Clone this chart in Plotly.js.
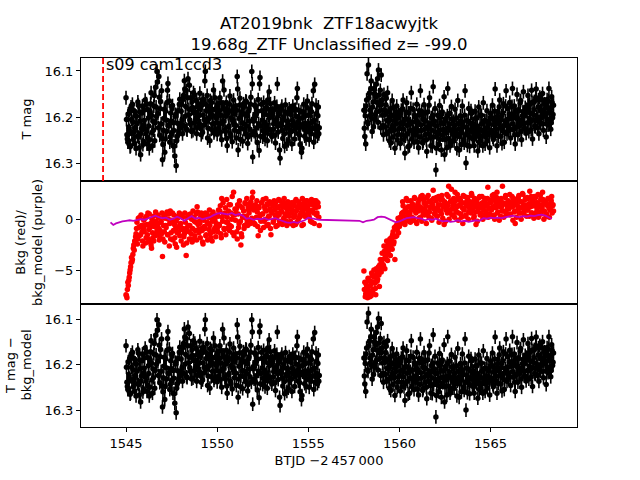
<!DOCTYPE html>
<html>
<head>
<meta charset="utf-8">
<script src="https://cdn.plot.ly/plotly-3.0.1.min.js"></script>
<style>
  body { margin: 0; background: white; }
  #chart { width: 640px; height: 480px; }
</style>
</head>
<body>
<div id="chart"></div>
<script>
// TESS sector 9 light curve, orbit 1 and orbit 2 (BTJD)
// cadences are split in two interleaved sets (a: x.x0/x.x5, b: half step later)
const t1 = [
  1545.00,1545.05,1545.10,1545.15,1545.20,1545.25,1545.30,1545.35,1545.40,1545.45,1545.50,1545.55,1545.60,1545.65,1545.70,1545.75,1545.80,1545.85,1545.90,1545.95,
  1546.00,1546.05,1546.10,1546.15,1546.20,1546.25,1546.30,1546.35,1546.40,1546.45,1546.50,1546.55,1546.60,1546.65,1546.70,1546.75,1546.80,1546.85,1546.90,1546.95,
  1547.00,1547.05,1547.10,1547.15,1547.20,1547.25,1547.30,1547.35,1547.40,1547.45,1547.50,1547.55,1547.60,1547.65,1547.70,1547.75,1547.80,1547.85,1547.90,1547.95,
  1548.00,1548.05,1548.10,1548.15,1548.20,1548.25,1548.30,1548.35,1548.40,1548.45,1548.50,1548.55,1548.60,1548.65,1548.70,1548.75,1548.80,1548.85,1548.90,1548.95,
  1549.00,1549.05,1549.10,1549.15,1549.20,1549.25,1549.30,1549.35,1549.40,1549.45,1549.50,1549.55,1549.60,1549.65,1549.70,1549.75,1549.80,1549.85,1549.90,1549.95,
  1550.00,1550.05,1550.10,1550.15,1550.20,1550.25,1550.30,1550.35,1550.40,1550.45,1550.50,1550.55,1550.60,1550.65,1550.70,1550.75,1550.80,1550.85,1550.90,1550.95,
  1551.00,1551.05,1551.10,1551.15,1551.20,1551.25,1551.30,1551.35,1551.40,1551.45,1551.50,1551.55,1551.60,1551.65,1551.70,1551.75,1551.80,1551.85,1551.90,1551.95,
  1552.00,1552.05,1552.10,1552.15,1552.20,1552.25,1552.30,1552.35,1552.40,1552.45,1552.50,1552.55,1552.60,1552.65,1552.70,1552.75,1552.80,1552.85,1552.90,1552.95,
  1553.00,1553.05,1553.10,1553.15,1553.20,1553.25,1553.30,1553.35,1553.40,1553.45,1553.50,1553.55,1553.60,1553.65,1553.70,1553.75,1553.80,1553.85,1553.90,1553.95,
  1554.00,1554.05,1554.10,1554.15,1554.20,1554.25,1554.30,1554.35,1554.40,1554.45,1554.50,1554.55,1554.60,1554.65,1554.70,1554.75,1554.80,1554.85,1554.90,1554.95,
  1555.00,1555.05,1555.10,1555.15,1555.20,1555.25,1555.30,1555.35,1555.40,1555.45,1555.50,1555.55,1555.60
];
const t1b = [
  1545.025,1545.075,1545.125,1545.175,1545.225,1545.275,1545.325,1545.375,1545.425,1545.475,1545.525,1545.575,1545.625,1545.675,1545.725,1545.775,1545.825,1545.875,1545.925,1545.975,
  1546.025,1546.075,1546.125,1546.175,1546.225,1546.275,1546.325,1546.375,1546.425,1546.475,1546.525,1546.575,1546.625,1546.675,1546.725,1546.775,1546.825,1546.875,1546.925,1546.975,
  1547.025,1547.075,1547.125,1547.175,1547.225,1547.275,1547.325,1547.375,1547.425,1547.475,1547.525,1547.575,1547.625,1547.675,1547.725,1547.775,1547.825,1547.875,1547.925,1547.975,
  1548.025,1548.075,1548.125,1548.175,1548.225,1548.275,1548.325,1548.375,1548.425,1548.475,1548.525,1548.575,1548.625,1548.675,1548.725,1548.775,1548.825,1548.875,1548.925,1548.975,
  1549.025,1549.075,1549.125,1549.175,1549.225,1549.275,1549.325,1549.375,1549.425,1549.475,1549.525,1549.575,1549.625,1549.675,1549.725,1549.775,1549.825,1549.875,1549.925,1549.975,
  1550.025,1550.075,1550.125,1550.175,1550.225,1550.275,1550.325,1550.375,1550.425,1550.475,1550.525,1550.575,1550.625,1550.675,1550.725,1550.775,1550.825,1550.875,1550.925,1550.975,
  1551.025,1551.075,1551.125,1551.175,1551.225,1551.275,1551.325,1551.375,1551.425,1551.475,1551.525,1551.575,1551.625,1551.675,1551.725,1551.775,1551.825,1551.875,1551.925,1551.975,
  1552.025,1552.075,1552.125,1552.175,1552.225,1552.275,1552.325,1552.375,1552.425,1552.475,1552.525,1552.575,1552.625,1552.675,1552.725,1552.775,1552.825,1552.875,1552.925,1552.975,
  1553.025,1553.075,1553.125,1553.175,1553.225,1553.275,1553.325,1553.375,1553.425,1553.475,1553.525,1553.575,1553.625,1553.675,1553.725,1553.775,1553.825,1553.875,1553.925,1553.975,
  1554.025,1554.075,1554.125,1554.175,1554.225,1554.275,1554.325,1554.375,1554.425,1554.475,1554.525,1554.575,1554.625,1554.675,1554.725,1554.775,1554.825,1554.875,1554.925,1554.975,
  1555.025,1555.075,1555.125,1555.175,1555.225,1555.275,1555.325,1555.375,1555.425,1555.475,1555.525,1555.575
];
const t2 = [
  1558.05,1558.10,1558.15,1558.20,1558.25,1558.30,1558.35,1558.40,1558.45,1558.50,1558.55,1558.60,1558.65,1558.70,1558.75,1558.80,1558.85,1558.90,1558.95,
  1559.00,1559.05,1559.10,1559.15,1559.20,1559.25,1559.30,1559.35,1559.40,1559.45,1559.50,1559.55,1559.60,1559.65,1559.70,1559.75,1559.80,1559.85,1559.90,1559.95,
  1560.00,1560.05,1560.10,1560.15,1560.20,1560.25,1560.30,1560.35,1560.40,1560.45,1560.50,1560.55,1560.60,1560.65,1560.70,1560.75,1560.80,1560.85,1560.90,1560.95,
  1561.00,1561.05,1561.10,1561.15,1561.20,1561.25,1561.30,1561.35,1561.40,1561.45,1561.50,1561.55,1561.60,1561.65,1561.70,1561.75,1561.80,1561.85,1561.90,1561.95,
  1562.00,1562.05,1562.10,1562.15,1562.20,1562.25,1562.30,1562.35,1562.40,1562.45,1562.50,1562.55,1562.60,1562.65,1562.70,1562.75,1562.80,1562.85,1562.90,1562.95,
  1563.00,1563.05,1563.10,1563.15,1563.20,1563.25,1563.30,1563.35,1563.40,1563.45,1563.50,1563.55,1563.60,1563.65,1563.70,1563.75,1563.80,1563.85,1563.90,1563.95,
  1564.00,1564.05,1564.10,1564.15,1564.20,1564.25,1564.30,1564.35,1564.40,1564.45,1564.50,1564.55,1564.60,1564.65,1564.70,1564.75,1564.80,1564.85,1564.90,1564.95,
  1565.00,1565.05,1565.10,1565.15,1565.20,1565.25,1565.30,1565.35,1565.40,1565.45,1565.50,1565.55,1565.60,1565.65,1565.70,1565.75,1565.80,1565.85,1565.90,1565.95,
  1566.00,1566.05,1566.10,1566.15,1566.20,1566.25,1566.30,1566.35,1566.40,1566.45,1566.50,1566.55,1566.60,1566.65,1566.70,1566.75,1566.80,1566.85,1566.90,1566.95,
  1567.00,1567.05,1567.10,1567.15,1567.20,1567.25,1567.30,1567.35,1567.40,1567.45,1567.50,1567.55,1567.60,1567.65,1567.70,1567.75,1567.80,1567.85,1567.90,1567.95,
  1568.00,1568.05,1568.10,1568.15,1568.20,1568.25,1568.30,1568.35,1568.40,1568.45
];
const t2b = [
  1558.075,1558.125,1558.175,1558.225,1558.275,1558.325,1558.375,1558.425,1558.475,1558.525,1558.575,1558.625,1558.675,1558.725,1558.775,1558.825,1558.875,1558.925,1558.975,
  1559.025,1559.075,1559.125,1559.175,1559.225,1559.275,1559.325,1559.375,1559.425,1559.475,1559.525,1559.575,1559.625,1559.675,1559.725,1559.775,1559.825,1559.875,1559.925,1559.975,
  1560.025,1560.075,1560.125,1560.175,1560.225,1560.275,1560.325,1560.375,1560.425,1560.475,1560.525,1560.575,1560.625,1560.675,1560.725,1560.775,1560.825,1560.875,1560.925,1560.975,
  1561.025,1561.075,1561.125,1561.175,1561.225,1561.275,1561.325,1561.375,1561.425,1561.475,1561.525,1561.575,1561.625,1561.675,1561.725,1561.775,1561.825,1561.875,1561.925,1561.975,
  1562.025,1562.075,1562.125,1562.175,1562.225,1562.275,1562.325,1562.375,1562.425,1562.475,1562.525,1562.575,1562.625,1562.675,1562.725,1562.775,1562.825,1562.875,1562.925,1562.975,
  1563.025,1563.075,1563.125,1563.175,1563.225,1563.275,1563.325,1563.375,1563.425,1563.475,1563.525,1563.575,1563.625,1563.675,1563.725,1563.775,1563.825,1563.875,1563.925,1563.975,
  1564.025,1564.075,1564.125,1564.175,1564.225,1564.275,1564.325,1564.375,1564.425,1564.475,1564.525,1564.575,1564.625,1564.675,1564.725,1564.775,1564.825,1564.875,1564.925,1564.975,
  1565.025,1565.075,1565.125,1565.175,1565.225,1565.275,1565.325,1565.375,1565.425,1565.475,1565.525,1565.575,1565.625,1565.675,1565.725,1565.775,1565.825,1565.875,1565.925,1565.975,
  1566.025,1566.075,1566.125,1566.175,1566.225,1566.275,1566.325,1566.375,1566.425,1566.475,1566.525,1566.575,1566.625,1566.675,1566.725,1566.775,1566.825,1566.875,1566.925,1566.975,
  1567.025,1567.075,1567.125,1567.175,1567.225,1567.275,1567.325,1567.375,1567.425,1567.475,1567.525,1567.575,1567.625,1567.675,1567.725,1567.775,1567.825,1567.875,1567.925,1567.975,
  1568.025,1568.075,1568.125,1568.175,1568.225,1568.275,1568.325,1568.375,1568.425
];

// T mag (the bkg-subtracted panel looks the same at this scale)
const mag1 = [
  16.158,16.238,16.254,16.221,16.186,16.262,16.205,16.172,16.248,16.231,16.196,16.268,16.214,16.167,16.243,16.189,16.281,16.225,16.176,16.252,
  16.207,16.163,16.236,16.258,16.184,16.219,16.249,16.171,16.196,16.262,16.228,16.153,16.212,16.178,16.101,16.192,16.112,16.239,16.166,16.143,
  16.292,16.228,16.183,16.247,16.206,16.168,16.127,16.219,16.254,16.191,16.236,16.175,16.212,16.263,16.198,16.305,16.242,16.186,16.229,16.161,
  16.214,16.172,16.236,16.153,16.121,16.198,16.142,16.228,16.117,16.183,16.206,16.158,16.231,16.179,16.147,16.212,16.189,16.164,16.223,16.171,
  16.196,16.148,16.219,16.175,16.233,16.162,16.205,16.101,16.186,16.153,16.224,16.177,16.251,16.193,16.168,16.214,16.141,16.229,16.184,16.202,
  16.237,16.171,16.214,16.158,16.196,16.249,16.122,16.208,16.183,16.231,16.168,16.262,16.192,16.219,16.154,16.241,16.186,16.207,16.163,16.228,
  16.176,16.245,16.112,16.271,16.203,16.159,16.224,16.188,16.252,16.171,16.214,16.236,16.167,16.198,16.243,16.182,16.226,16.157,16.101,16.286,
  16.209,16.174,16.238,16.193,16.255,16.162,16.272,16.114,16.219,16.186,16.243,16.168,16.211,16.234,16.179,16.251,16.196,16.145,16.227,16.183,
  16.242,16.191,16.215,16.169,16.256,16.204,16.128,16.232,16.187,16.289,16.218,16.176,16.246,16.199,16.263,16.173,16.224,16.208,16.251,16.182,
  16.229,16.194,16.258,16.176,16.214,16.247,16.183,16.221,16.138,16.236,16.203,16.259,16.188,16.267,16.216,16.172,16.241,16.197,16.232,16.165,
  16.218,16.249,16.183,16.236,16.171,16.209,16.254,16.129,16.226,16.192,16.241,16.178,16.223
];
const mag1b = [
  16.205,16.247,16.193,16.229,16.264,16.178,16.236,16.211,16.186,16.257,16.223,16.198,16.241,16.174,16.266,16.208,16.235,16.191,16.259,16.217,
  16.184,16.226,16.171,16.244,16.202,16.268,16.189,16.147,16.233,16.209,16.176,16.251,16.135,16.198,16.124,16.223,16.157,16.182,16.214,16.246,
  16.259,16.203,16.276,16.187,16.231,16.142,16.217,16.165,16.243,16.208,16.181,16.262,16.229,16.284,16.194,16.251,16.213,16.237,16.172,16.223,
  16.187,16.206,16.162,16.218,16.139,16.177,16.226,16.158,16.195,16.131,16.214,16.183,16.166,16.229,16.191,16.152,16.205,16.236,16.178,16.197,
  16.215,16.181,16.238,16.163,16.196,16.217,16.122,16.172,16.209,16.245,16.187,16.201,16.164,16.226,16.183,16.197,16.234,16.158,16.212,16.178,
  16.196,16.224,16.186,16.232,16.169,16.213,16.178,16.141,16.227,16.198,16.246,16.185,16.221,16.172,16.236,16.201,16.253,16.179,16.214,16.193,
  16.218,16.185,16.139,16.231,16.174,16.248,16.196,16.212,16.179,16.226,16.193,16.165,16.219,16.257,16.187,16.209,16.172,16.238,16.128,16.204,
  16.231,16.196,16.178,16.223,16.187,16.214,16.128,16.241,16.172,16.206,16.229,16.194,16.248,16.183,16.217,16.163,16.226,16.201,16.171,16.238,
  16.197,16.226,16.184,16.239,16.211,16.177,16.219,16.195,16.271,16.214,16.183,16.229,16.206,16.237,16.189,16.221,16.258,16.192,16.216,16.234,
  16.186,16.231,16.207,16.219,16.184,16.226,16.198,16.158,16.212,16.185,16.239,16.221,16.276,16.202,16.188,16.226,16.213,16.247,16.179,16.219,
  16.196,16.231,16.213,16.188,16.224,16.143,16.207,16.238,16.174,16.219,16.197,16.236
];
const mag2 = [
  16.185,16.242,16.258,16.163,16.211,16.087,16.148,16.196,16.122,16.231,16.167,16.138,16.205,16.156,16.189,16.117,16.098,16.174,16.142,
  16.109,16.163,16.218,16.151,16.194,16.173,16.236,16.147,16.209,16.251,16.182,16.226,16.164,16.243,16.198,16.267,16.215,16.176,16.238,16.191,
  16.224,16.257,16.185,16.212,16.163,16.248,16.278,16.203,16.169,16.236,16.191,16.262,16.214,16.147,16.229,16.183,16.254,16.199,16.238,16.172,
  16.211,16.266,16.186,16.143,16.229,16.197,16.252,16.173,16.238,16.208,16.274,16.189,16.222,16.158,16.245,16.201,16.263,16.134,16.216,16.181,
  16.314,16.243,16.196,16.259,16.175,16.228,16.271,16.189,16.214,16.156,16.248,16.203,16.266,16.138,16.224,16.192,16.255,16.177,16.236,16.209,
  16.251,16.183,16.229,16.268,16.164,16.214,16.242,16.197,16.259,16.176,16.221,16.256,16.143,16.299,16.207,16.238,16.181,16.263,16.213,16.192,
  16.246,16.219,16.262,16.187,16.234,16.202,16.273,16.178,16.226,16.251,16.196,16.241,16.169,16.229,16.258,16.208,16.186,16.238,16.214,16.266,
  16.192,16.233,16.174,16.248,16.206,16.139,16.225,16.262,16.188,16.214,16.163,16.241,16.197,16.229,16.171,16.254,16.208,16.143,16.236,16.182,
  16.219,16.168,16.245,16.193,16.138,16.227,16.176,16.258,16.202,16.151,16.238,16.186,16.213,16.164,16.249,16.197,16.145,16.224,16.179,16.235,
  16.188,16.153,16.231,16.172,16.209,16.142,16.247,16.194,16.166,16.221,16.139,16.203,16.178,16.236,16.157,16.214,16.185,16.149,16.228,16.171,
  16.198,16.243,16.162,16.217,16.138,16.189,16.226,16.156,16.201,16.174
];
const mag2b = [
  16.224,16.197,16.176,16.106,16.214,16.158,16.185,16.139,16.202,16.178,16.221,16.149,16.194,16.129,16.168,16.211,16.152,16.186,16.223,
  16.172,16.196,16.238,16.184,16.221,16.159,16.207,16.188,16.231,16.203,16.256,16.196,16.219,16.179,16.228,16.207,16.188,16.249,16.201,16.225,
  16.196,16.214,16.238,16.182,16.226,16.205,16.241,16.189,16.218,16.264,16.207,16.229,16.181,16.247,16.211,16.231,16.196,16.225,16.208,16.253,
  16.229,16.194,16.243,16.217,16.188,16.256,16.205,16.226,16.191,16.249,16.221,16.236,16.174,16.214,16.262,16.228,16.196,16.243,16.209,16.232,
  16.267,16.219,16.236,16.201,16.248,16.212,16.193,16.239,16.226,16.281,16.208,16.233,16.197,16.246,16.215,16.262,16.229,16.204,16.251,16.226,
  16.218,16.241,16.202,16.236,16.214,16.271,16.226,16.208,16.233,16.214,16.249,16.196,16.238,16.222,16.261,16.209,16.243,16.228,16.186,16.231,
  16.213,16.248,16.226,16.203,16.241,16.219,16.237,16.254,16.196,16.228,16.214,16.262,16.231,16.207,16.242,16.224,16.251,16.211,16.234,16.203,
  16.228,16.201,16.243,16.216,16.187,16.234,16.209,16.198,16.241,16.178,16.223,16.206,16.257,16.191,16.218,16.233,16.176,16.214,16.205,16.229,
  16.194,16.226,16.203,16.177,16.215,16.196,16.238,16.187,16.221,16.204,16.184,16.219,16.169,16.231,16.206,16.188,16.214,16.197,16.226,16.183,
  16.212,16.174,16.203,16.191,16.227,16.168,16.206,16.184,16.219,16.158,16.198,16.223,16.162,16.209,16.186,16.201,16.163,16.214,16.193,16.181,
  16.173,16.214,16.191,16.165,16.205,16.182,16.212,16.169,16.194
];
const magErr = 0.015;

// background flux (red points)
const bkg1 = [
  -7.3,-7.6,-6.1,-5.9,-5.2,-4.6,-3.7,-3.9,-2.8,-3.0,-2.2,-1.4,-0.3,-1.9,-0.8,0.2,-1.5,-0.6,-2.1,-0.9,
  -1.2,0.1,-1.8,-0.5,0.6,-1.0,-2.2,-0.4,-2.8,-1.3,0.3,-0.7,-1.6,-0.2,-1.1,0.4,-0.9,-1.7,-0.3,-1.4,
  -3.6,-0.6,-1.2,0.1,-0.8,0.7,-1.5,0.5,-0.4,-1.9,-0.1,0.6,-1.1,-0.5,-2.4,-0.2,-1.3,0.3,-0.7,-1.6,
  -0.4,-1.0,0.2,-2.5,-1.4,-0.3,-3.5,-0.8,0.4,-1.2,-0.6,-1.9,0.0,-0.9,-2.0,-0.2,-1.1,0.5,1.2,-0.5,
  -1.3,-0.4,0.3,-0.9,-2.2,-0.1,-0.7,0.6,-1.5,-0.3,0.2,-1.0,-0.6,-1.8,0.4,-0.2,-1.2,0.1,-0.8,-0.4,
  -0.9,0.3,-0.5,0.8,-1.4,2.0,-0.2,0.5,-1.0,1.1,-0.3,0.2,-0.8,1.4,-0.6,0.6,0.0,-1.3,2.6,0.4,
  -0.1,1.0,-1.9,0.5,-0.4,1.3,-2.5,-1.7,0.2,0.8,-0.6,1.5,0.3,-0.3,1.1,0.6,-0.2,1.7,0.1,2.6,
  0.9,-0.4,1.4,0.2,0.7,-1.6,1.1,0.4,-0.2,1.6,0.5,-0.8,1.2,0.0,0.8,1.5,-0.5,0.3,1.0,-1.5,
  0.6,1.3,-0.1,0.9,1.6,0.2,-0.6,1.1,0.4,1.8,-0.3,0.7,1.2,0.1,1.5,0.5,-0.2,0.9,1.3,0.3,
  1.0,-0.4,0.6,1.4,0.2,1.7,-0.5,0.8,1.2,0.0,1.5,0.4,1.1,-0.6,0.7,1.6,0.3,1.0,1.8,0.5,
  1.3,0.2,1.7,0.8,-0.3,1.4,0.6,1.8,1.1,0.4,1.6,1.2,-0.6
];
const bkg1b = [
  -7.4,-6.8,-6.4,-5.6,-4.9,-4.2,-4.1,-3.4,-2.5,-2.1,-1.7,-0.9,-2.4,0.1,-1.6,-0.7,0.4,-1.2,-2.6,-0.1,
  -0.6,-2.3,0.3,-1.5,-1.9,0.5,-0.8,-2.5,0.0,-1.8,-2.1,-0.3,0.7,-1.4,-0.6,0.2,-2.0,-1.1,-0.2,0.6,
  -1.9,0.3,-2.2,-0.6,0.5,-1.5,0.0,-2.6,0.8,-1.3,-0.2,-2.0,0.4,-1.8,-0.9,-2.7,0.1,-1.2,0.6,-0.5,
  -2.1,0.4,-0.9,-1.7,0.6,-1.1,-2.3,0.2,-0.6,-1.9,0.5,-1.4,-2.2,0.8,0.2,-1.6,-0.3,-2.0,0.7,-1.0,
  -0.2,-1.8,0.6,-1.1,-2.4,0.3,-0.9,-1.6,0.5,-2.0,-0.4,0.9,-1.4,0.1,-2.1,0.7,-1.0,-0.1,-1.7,0.4,
  -1.2,0.9,-0.6,1.3,-1.8,0.2,1.6,-0.9,0.6,-1.5,1.9,-0.3,0.8,-1.1,1.4,-0.7,2.2,0.4,-1.6,1.0,
  0.6,-1.2,1.4,-0.8,1.8,-0.2,-1.4,1.1,0.3,-0.9,1.6,0.1,2.0,-0.6,0.9,1.5,-0.4,1.2,2.1,-0.3,
  1.3,-0.5,0.9,1.8,-0.7,1.2,0.1,-1.1,1.6,0.5,1.9,-0.2,1.0,2.0,-0.6,1.4,0.3,1.7,-0.9,0.8,
  1.5,-0.3,1.8,0.4,-0.7,1.2,0.6,1.9,-0.2,1.3,0.8,-0.5,1.6,2.0,0.3,1.1,-0.6,1.7,0.5,1.4,
  -0.2,1.6,0.9,-0.6,1.3,0.4,1.9,-0.3,1.1,1.7,0.2,1.4,0.7,2.0,-0.5,1.2,1.6,0.3,1.8,0.9,
  0.4,1.7,-0.2,1.9,0.9,1.5,-0.4,1.2,1.8,0.6,1.6,0.2
];
const bkg2 = [
  -5.0,-6.1,-7.2,-6.6,-7.6,-5.9,-7.0,-6.4,-7.4,-5.5,-6.8,-4.9,-6.2,-7.3,-5.3,-5.8,-4.6,-6.5,-3.9,
  -5.1,-3.3,-4.4,-2.6,-4.8,-3.7,-2.1,-4.0,-3.0,-2.4,-3.5,-1.8,-2.9,-1.2,-2.2,-3.9,-0.9,-1.6,-0.4,-1.3,
  -0.7,0.2,-0.2,0.6,1.3,0.3,-0.5,1.0,0.7,1.8,0.4,1.2,-0.3,0.9,1.5,0.1,1.1,2.0,0.6,-0.4,
  1.4,0.8,1.9,0.2,1.1,2.3,0.5,1.6,0.9,1.3,2.1,0.4,1.7,0.7,1.2,0.1,1.5,2.8,1.0,0.6,
  1.8,0.3,1.1,2.2,0.8,1.4,0.5,1.9,1.2,-0.5,1.6,0.9,2.4,1.3,3.2,0.7,1.7,2.9,1.0,0.4,
  1.5,2.6,0.8,1.2,2.0,0.6,1.4,1.8,0.2,1.1,2.3,0.9,1.6,0.4,1.3,2.1,0.7,1.5,1.0,2.5,
  0.9,1.7,0.3,1.2,-0.5,1.9,0.8,1.4,2.2,0.6,1.1,1.6,0.2,1.3,2.0,0.7,1.5,3.1,1.0,0.5,
  1.6,0.9,2.3,1.2,0.4,1.8,1.1,2.6,0.7,1.4,1.9,0.3,1.2,3.2,0.8,1.5,2.1,0.6,1.3,1.7,
  1.0,2.4,0.5,1.6,1.2,2.0,0.7,-0.4,1.4,1.8,0.9,2.3,1.1,0.6,1.7,2.5,1.3,0.8,1.9,1.2,
  2.1,0.9,1.5,2.7,1.2,0.6,1.8,1.3,2.2,0.4,1.6,1.0,2.4,1.4,0.7,1.9,1.1,2.6,1.5,0.8,
  1.7,0.3,1.4,2.0,1.1,0.9,1.6,2.2,1.3,0.8
];
const bkg2b = [
  -6.8,-7.5,-6.3,-7.1,-5.7,-6.9,-7.5,-6.0,-5.2,-7.0,-6.1,-5.6,-6.7,-4.8,-6.0,-5.1,-5.4,-4.4,-4.7,
  -4.2,-3.9,-4.5,-3.1,-3.6,-2.7,-3.2,-2.3,-3.4,-1.9,-2.6,-2.0,-1.5,-2.4,-0.8,-1.7,-0.6,-1.0,0.1,-0.2,
  0.0,-0.4,0.5,1.7,0.7,-0.3,1.0,2.0,0.1,1.2,-0.2,0.6,1.8,0.2,1.4,-0.1,2.1,0.8,-0.3,1.1,
  1.6,0.1,1.2,2.2,-0.2,0.9,1.9,0.4,1.5,-0.4,0.7,2.3,0.2,1.1,1.8,-0.1,1.3,2.0,0.5,1.0,
  2.1,0.3,1.4,-0.3,1.9,0.8,2.3,0.1,1.2,1.7,-0.2,1.5,0.6,2.2,0.0,0.9,1.8,0.4,1.3,2.0,
  0.2,1.8,0.7,2.4,-0.1,1.3,2.0,0.5,1.6,-0.4,1.0,2.2,0.3,1.4,1.9,0.0,1.1,1.7,0.6,2.3,
  1.4,0.1,2.0,0.7,1.6,-0.2,1.2,2.1,0.4,1.5,2.2,0.0,0.9,1.8,0.5,1.3,2.0,0.2,1.1,1.7,
  0.3,1.9,1.1,2.4,0.0,1.4,2.1,0.6,1.7,-0.1,1.2,2.0,0.8,1.6,0.2,1.5,2.3,0.5,1.0,1.8,
  1.6,0.4,1.2,2.2,-0.1,1.5,0.8,1.9,0.2,1.3,2.1,0.6,1.7,0.0,1.1,2.4,0.5,1.4,2.0,0.3,
  0.9,2.0,0.3,1.5,2.2,0.6,1.8,0.1,1.3,2.1,0.7,1.6,0.2,1.4,2.3,0.5,1.2,1.9,0.0,1.5,
  1.7,0.5,1.3,2.0,0.2,1.1,1.8,0.6,1.4
];

// background model (purple line)
const tModel = [
  1544.15,1544.30,1544.45,1544.60,1544.80,1545.00,1545.20,1545.40,1545.60,1545.80,1546.00,1546.20,1546.40,1546.60,1546.80,
  1547.00,1547.20,1547.40,1547.60,1547.80,1548.00,1548.20,1548.40,1548.60,1548.80,1549.00,1549.20,1549.40,1549.60,1549.80,
  1550.00,1550.20,1550.40,1550.60,1550.80,1551.00,1551.20,1551.40,1551.60,1551.80,1552.00,1552.20,1552.40,1552.60,1552.80,
  1553.00,1553.20,1553.40,1553.60,1553.80,1554.00,1554.20,1554.40,1554.60,1554.80,1555.00,1555.20,1555.40,1555.60,
  1556.50,1557.50,1557.80,1558.00,1558.20,1558.40,1558.60,1558.80,1559.00,1559.20,1559.40,1559.60,1559.80,
  1560.00,1560.20,1560.40,1560.60,1560.80,1561.00,1561.20,1561.40,1561.60,1561.80,1562.00,1562.20,1562.40,1562.60,1562.80,
  1563.00,1563.20,1563.40,1563.60,1563.80,1564.00,1564.20,1564.40,1564.60,1564.80,1565.00,1565.20,1565.40,1565.60,1565.80,
  1566.00,1566.20,1566.40,1566.60,1566.80,1567.00,1567.20,1567.40,1567.60,1567.80,1568.00,1568.20,1568.35
];
const bkgModel = [
  -0.3,-0.55,-0.4,-0.3,-0.2,-0.15,-0.1,-0.15,-0.05,0.0,-0.05,0.1,0.2,0.35,0.2,
  0.1,0.15,-0.05,0.05,0.25,0.1,-0.15,0.1,0.3,0.05,0.15,0.0,0.1,0.2,0.4,
  0.55,0.6,0.5,0.45,0.6,0.4,0.5,0.35,0.05,0.1,-0.05,0.05,0.0,0.1,-0.05,
  0.05,0.1,-0.05,-0.2,-0.3,-0.35,-0.25,-0.35,-0.2,-0.1,0.15,0.05,0.0,-0.05,
  -0.08,-0.12,-0.15,-0.3,-0.15,-0.1,-0.05,0.2,0.25,0.2,0.05,-0.1,-0.3,
  -0.2,-0.05,0.1,0.15,0.2,0.1,0.05,-0.1,0.0,-0.05,0.05,-0.1,-0.2,-0.15,-0.25,
  -0.2,-0.1,-0.2,-0.15,-0.25,-0.15,-0.1,-0.15,0.1,0.05,0.15,0.1,0.15,0.1,0.2,
  0.3,0.35,0.25,0.2,0.3,0.25,0.35,0.3,0.4,0.45,0.35,0.15,0.05
];

const discoveryTime = 1543.74;
const sectorLabel = 's09 cam1ccd3';

function magTrace(t, m, xa, ya) {
    return {
        x: t, y: m, xaxis: xa, yaxis: ya,
        type: 'scatter', mode: 'markers',
        marker: { color: 'black', size: 5.5 },
        error_y: { type: 'constant', value: magErr, color: 'black', thickness: 1.6, width: 0 },
        hoverinfo: 'skip'
    };
}

function bkgTrace(t, b) {
    return {
        x: t, y: b, xaxis: 'x2', yaxis: 'y2',
        type: 'scatter', mode: 'markers',
        marker: { color: 'red', size: 5.5 },
        hoverinfo: 'skip'
    };
}

const traces = [
    magTrace(t1, mag1, 'x', 'y'),
    magTrace(t1b, mag1b, 'x', 'y'),
    magTrace(t2, mag2, 'x', 'y'),
    magTrace(t2b, mag2b, 'x', 'y'),
    bkgTrace(t1, bkg1),
    bkgTrace(t1b, bkg1b),
    bkgTrace(t2, bkg2),
    bkgTrace(t2b, bkg2b),
    {
        x: tModel, y: bkgModel, xaxis: 'x2', yaxis: 'y2',
        type: 'scatter', mode: 'lines',
        line: { color: '#bf00bf', width: 1.8 },
        hoverinfo: 'skip'
    },
    magTrace(t1, mag1, 'x3', 'y3'),
    magTrace(t1b, mag1b, 'x3', 'y3'),
    magTrace(t2, mag2, 'x3', 'y3'),
    magTrace(t2b, mag2b, 'x3', 'y3')
];

const xRange = [1542.53, 1569.74];
const frame = {
    showline: true, mirror: true, linecolor: 'black', linewidth: 1,
    showgrid: false, zeroline: false,
    ticks: 'outside', ticklen: 4, tickwidth: 1, tickcolor: 'black'
};

const layout = {
    width: 640, height: 480,
    margin: { l: 81, r: 63, t: 58, b: 53 },
    paper_bgcolor: 'white', plot_bgcolor: 'white',
    font: { family: 'DejaVu Sans, sans-serif', size: 13, color: 'black' },
    showlegend: false,
    title: {
        text: 'AT2019bnk\u00a0\u00a0ZTF18acwyjtk<br>19.68g_ZTF Unclassified z= -99.0',
        font: { size: 16.5 },
        xref: 'paper', x: 0.5, xanchor: 'center',
        yref: 'paper', y: 1.012, yanchor: 'bottom'
    },
    xaxis: Object.assign({}, frame, { domain: [0, 1], anchor: 'y', range: xRange, ticks: '', showticklabels: false }),
    xaxis2: Object.assign({}, frame, { domain: [0, 1], anchor: 'y2', range: xRange, ticks: '', showticklabels: false }),
    xaxis3: Object.assign({}, frame, {
        domain: [0, 1], anchor: 'y3', range: xRange, dtick: 5, tick0: 1545,
        title: { text: 'BTJD \u22122\u2009457\u2009000', standoff: 6, font: { size: 13 } }
    }),
    yaxis: Object.assign({}, frame, { domain: [0.6667, 1], anchor: 'x', range: [16.338, 16.072], dtick: 0.1, tick0: 16.1 }),
    yaxis2: Object.assign({}, frame, { domain: [0.3333, 0.6667], anchor: 'x2', range: [-8.2, 3.7], dtick: 5, tick0: 0 }),
    yaxis3: Object.assign({}, frame, { domain: [0, 0.3333], anchor: 'x3', range: [16.336, 16.0665], dtick: 0.1, tick0: 16.1 }),
    shapes: [{
        type: 'line', xref: 'x', yref: 'y domain',
        x0: discoveryTime, x1: discoveryTime, y0: 0, y1: 1,
        line: { color: 'red', width: 1.8, dash: '6px,3px' }
    }],
    annotations: [
        {
            text: sectorLabel, xref: 'x', yref: 'y', x: discoveryTime + 0.04, y: 16.087,
            xanchor: 'left', yanchor: 'middle', showarrow: false, font: { size: 16 }
        },
        {
            text: 'T mag', xref: 'paper', yref: 'paper', x: -0.109, y: 0.8333,
            textangle: -90, xanchor: 'center', yanchor: 'middle', showarrow: false
        },
        {
            text: 'Bkg (red)/<br>bkg_model (purple)', xref: 'paper', yref: 'paper', x: -0.106, y: 0.5,
            textangle: -90, xanchor: 'center', yanchor: 'middle', showarrow: false
        },
        {
            text: 'T mag \u2212<br>bkg_model', xref: 'paper', yref: 'paper', x: -0.125, y: 0.1667,
            textangle: -90, xanchor: 'center', yanchor: 'middle', showarrow: false
        }
    ]
};

Plotly.newPlot('chart', traces, layout, { staticPlot: true });
</script>
</body>
</html>
